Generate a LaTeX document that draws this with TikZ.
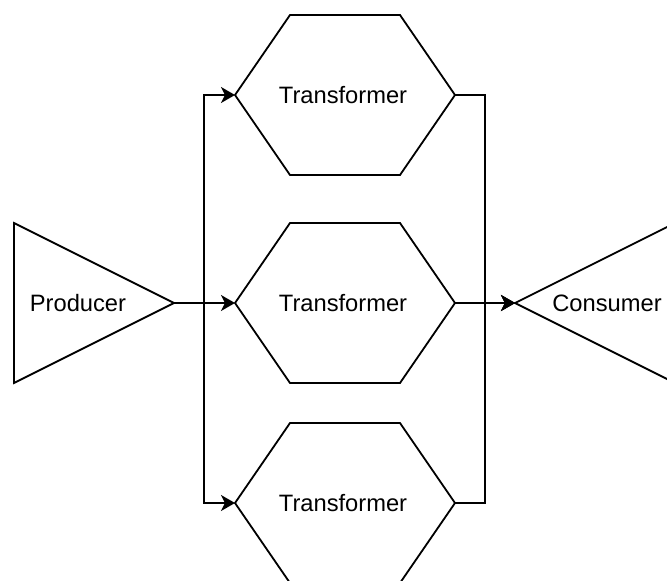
\documentclass[tikz,border=0pt]{standalone}
\usepackage{fontspec}
\setmainfont{Liberation Sans}
\usetikzlibrary{arrows.meta}
\begin{document}
\begin{tikzpicture}[x=1pt, y=-1pt,
  outline/.style={draw=black, line width=1.8pt, line join=miter},
  box/.style={inner sep=0pt, outer sep=0pt, minimum width=220pt, minimum height=160pt,
    font=\fontsize{23.7}{28}\selectfont},
  tribox/.style={inner sep=0pt, outer sep=0pt, minimum width=160pt, minimum height=160pt},
  txt/.style={inner sep=0pt, font=\fontsize{23.7}{28}\selectfont},
  wire/.style={draw=black, line width=1.8pt},
  flow/.style={wire, -{Stealth[length=14pt, width=16pt, inset=4pt]}}
]
\useasboundingbox (0,0) rectangle (667,581);

% producer triangle
\node[tribox] (prod) at (94,303) {};
\draw[outline] (prod.north west) -- (prod.east) -- (prod.south west) -- cycle;
\node[txt] (prodtext) at (78,303) {Producer};

% consumer triangle
\node[tribox] (cons) at (595,303) {};
\draw[outline] (cons.west) -- (cons.north east) -- (cons.south east) -- cycle;
\node[txt] (constext) at (607,303) {Consumer};

% transformer hexagons
\foreach \n/\y in {t1/95, t2/303, t3/503} {
  \node[box] (\n) at (345,\y) {\kern-4pt Transformer};
  \draw[outline] (\n.west) -- ([xshift=55pt]\n.north west) -- ([xshift=-55pt]\n.north east)
    -- (\n.east) -- ([xshift=-55pt]\n.south east) -- ([xshift=55pt]\n.south west) -- cycle;
}

% fan-out and fan-in junctions
\coordinate (split) at (204,303);
\coordinate (merge) at (485,303);

\draw[flow] (prod.east) -- (t2.west);
\draw[flow] (prod.east) -- (split) |- (t1.west);
\draw[flow] (prod.east) -- (split) |- (t3.west);

\draw[flow] (t2.east) -- (cons.west);
\draw[flow] (t1.east) -| (merge) -- (cons.west);
\draw[flow] (t3.east) -| (merge) -- (cons.west);
\end{tikzpicture}
\end{document}
